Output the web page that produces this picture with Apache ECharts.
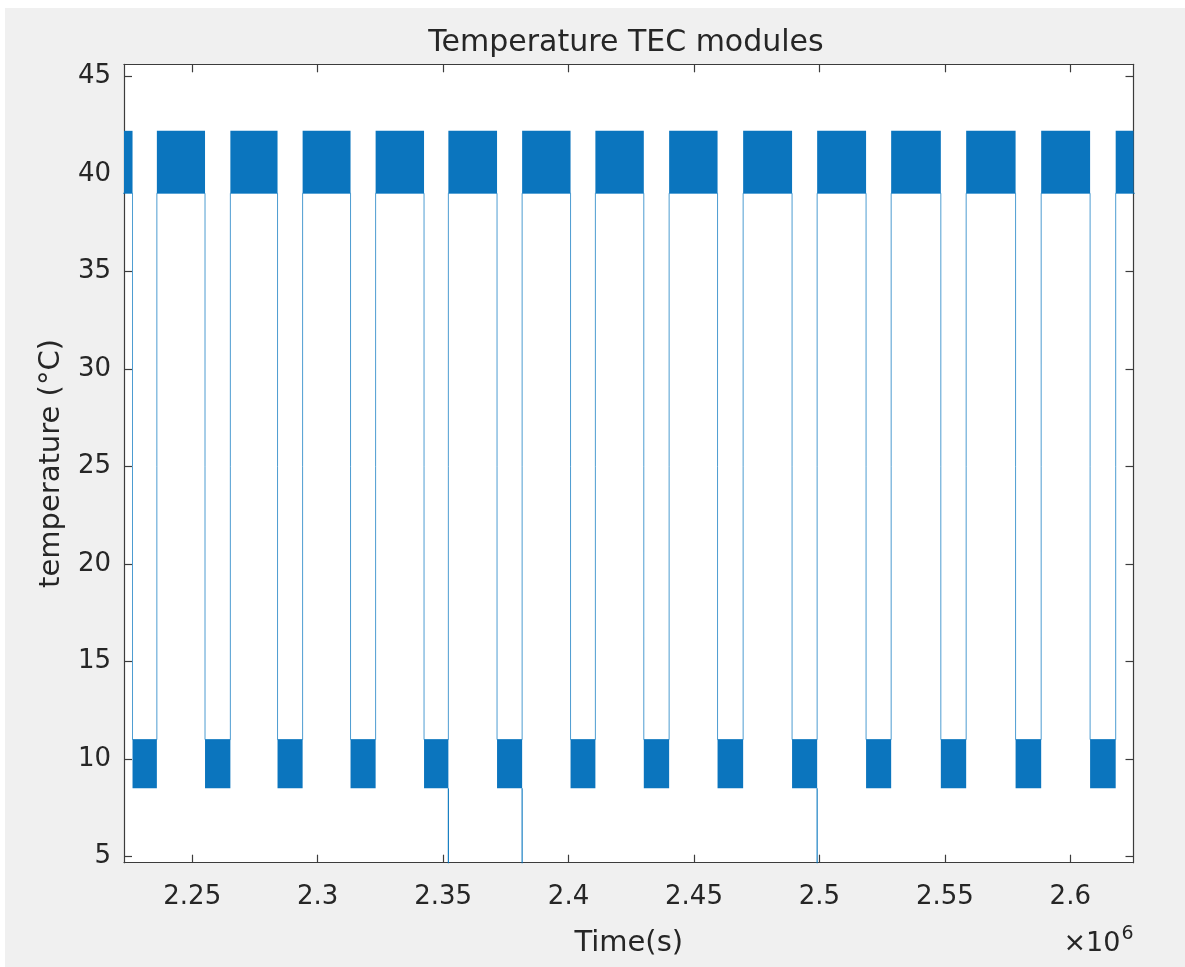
<!DOCTYPE html>
<html>
<head>
<meta charset="utf-8">
<script src="https://cdn.jsdelivr.net/npm/echarts@6/dist/echarts.min.js"></script>
<style>
html, body { margin: 0; padding: 0; background: #ffffff; }
#chart { position: absolute; left: 5px; top: 8px; width: 1180px; height: 959px; }
</style>
</head>
<body>
<div id="chart"></div>
<script>
// ---- data (time in seconds, temperature in °C) ----
const xRange = [2222800, 2625200];
const yRange = [4.69, 45.61];
const xTickValues = [2250000, 2300000, 2350000, 2400000, 2450000, 2500000, 2550000, 2600000];
const yTickValues = [5, 10, 15, 20, 25, 30, 35, 40, 45];
const recordStart = 2218000;
const recordEnd = 2630000;
// times where the module switches from the hot phase to the cold phase
const fallTimes = [2226200, 2255100, 2284000, 2313100, 2342400, 2371500, 2400800,
                   2430000, 2459400, 2489100, 2518600, 2548400, 2578200, 2607900];
// times where the module switches from the cold phase back to the hot phase
const riseTimes = [2235900, 2265200, 2294000, 2323100, 2352100, 2381500, 2410700,
                   2440100, 2469600, 2499100, 2528600, 2558500, 2588400, 2618100];
const hotBand = [39.0, 42.2];   // oscillation range during hot phase
const coldBand = [8.5, 11.0];   // oscillation range during cold phase
const spikeTimes = [2352100, 2381500, 2499100];
const spikeLows = [4.6, 4.6, 4.6];

// ---- build drawing data from the arrays ----
const bands = [];
bands.push([recordStart, fallTimes[0], hotBand[0], hotBand[1]]);
for (let i = 0; i < fallTimes.length; i++) {
  bands.push([fallTimes[i], riseTimes[i], coldBand[0], coldBand[1]]);
  const next = i + 1 < fallTimes.length ? fallTimes[i + 1] : recordEnd;
  bands.push([riseTimes[i], next, hotBand[0], hotBand[1]]);
}
const trace = [[recordStart, hotBand[0]]];
for (let i = 0; i < fallTimes.length; i++) {
  trace.push([fallTimes[i], hotBand[0]]);
  trace.push([fallTimes[i], coldBand[1]]);
  trace.push([riseTimes[i], coldBand[1]]);
  trace.push([riseTimes[i], hotBand[0]]);
}
trace.push([recordEnd, hotBand[0]]);
const spikes = [];
spikeTimes.forEach((t, i) => {
  spikes.push([t, coldBand[0]]);
  spikes.push([t, spikeLows[i]]);
  spikes.push([t, '-']);
});

const FONT = 'DejaVu Sans';
const TXT = '#262626';
const AX = '#3c3c3c';

const chart = echarts.init(document.getElementById('chart'), null, { renderer: 'canvas' });
const fmt = v => String(parseFloat((v / 1e6).toFixed(2)));

chart.setOption({
  animation: false,
  backgroundColor: '#f0f0f0',
  grid: {
    left: 119, top: 56.3, width: 1009.5, height: 798.4,
    show: true, backgroundColor: '#ffffff', borderWidth: 0
  },
  xAxis: [{
    type: 'value', min: xRange[0], max: xRange[1], position: 'bottom',
    axisLine: { show: true, onZero: false, lineStyle: { color: AX, width: 1.2 } },
    axisTick: { show: true, inside: true, length: 8, customValues: xTickValues, lineStyle: { color: AX, width: 1.2 } },
    axisLabel: { show: true, customValues: xTickValues, formatter: fmt, margin: 22,
                 fontFamily: FONT, fontSize: 26, color: TXT },
    splitLine: { show: false },
    name: 'Time(s)', nameLocation: 'middle', nameGap: 66,
    nameTextStyle: { fontFamily: FONT, fontSize: 29, color: TXT }
  }, {
    type: 'value', min: xRange[0], max: xRange[1], position: 'top',
    axisLine: { show: true, onZero: false, lineStyle: { color: AX, width: 1.2 } },
    axisTick: { show: true, inside: true, length: 8, customValues: xTickValues, lineStyle: { color: AX, width: 1.2 } },
    axisLabel: { show: false },
    splitLine: { show: false }
  }],
  yAxis: [{
    type: 'value', min: yRange[0], max: yRange[1], position: 'left',
    axisLine: { show: true, onZero: false, lineStyle: { color: AX, width: 1.2 } },
    axisTick: { show: true, inside: true, length: 8, customValues: yTickValues, lineStyle: { color: AX, width: 1.2 } },
    axisLabel: { show: true, customValues: yTickValues, margin: 13,
                 fontFamily: FONT, fontSize: 26, color: TXT },
    splitLine: { show: false },
    name: 'temperature (°C)', nameLocation: 'middle', nameGap: 58, nameRotate: 90,
    nameTextStyle: { fontFamily: FONT, fontSize: 29, color: TXT }
  }, {
    type: 'value', min: yRange[0], max: yRange[1], position: 'right',
    axisLine: { show: true, onZero: false, lineStyle: { color: AX, width: 1.2 } },
    axisTick: { show: true, inside: true, length: 8, customValues: yTickValues, lineStyle: { color: AX, width: 1.2 } },
    axisLabel: { show: false },
    splitLine: { show: false }
  }],
  graphic: [{
    type: 'text', x: 621, y: 35,
    style: { text: 'Temperature TEC modules', fontFamily: FONT, fontSize: 30, fill: TXT,
             align: 'center', verticalAlign: 'middle' }
  }, {
    type: 'text', x: 1128.5, y: 933,
    style: {
      text: '{a|×10}{b|6}', align: 'right', verticalAlign: 'middle',
      rich: {
        a: { fontFamily: FONT, fontSize: 27, fill: TXT, verticalAlign: 'bottom', color: TXT },
        b: { fontFamily: FONT, fontSize: 19, fill: TXT, verticalAlign: 'top', color: TXT, padding: [0, 0, 14, 1] }
      }
    }
  }],
  series: [{
    type: 'custom',
    xAxisIndex: 0, yAxisIndex: 0,
    data: bands,
    renderItem: function (params, api) {
      const p0 = api.coord([api.value(0), api.value(3)]);
      const p1 = api.coord([api.value(1), api.value(2)]);
      const rect = echarts.graphic.clipRectByRect(
        { x: p0[0], y: p0[1], width: p1[0] - p0[0], height: p1[1] - p0[1] },
        { x: params.coordSys.x, y: params.coordSys.y, width: params.coordSys.width, height: params.coordSys.height }
      );
      return rect && { type: 'rect', shape: rect, style: { fill: '#0b75be' } };
    },
    z: 2
  }, {
    type: 'line', xAxisIndex: 0, yAxisIndex: 0,
    data: trace, showSymbol: false, symbol: 'none',
    lineStyle: { color: '#0072BD', width: 1, opacity: 0.7 },
    z: 3
  }, {
    type: 'line', xAxisIndex: 0, yAxisIndex: 0,
    data: spikes, showSymbol: false, symbol: 'none', connectNulls: false,
    lineStyle: { color: '#0072BD', width: 1.2, opacity: 0.9 },
    z: 3
  }]
});
</script>
</body>
</html>
